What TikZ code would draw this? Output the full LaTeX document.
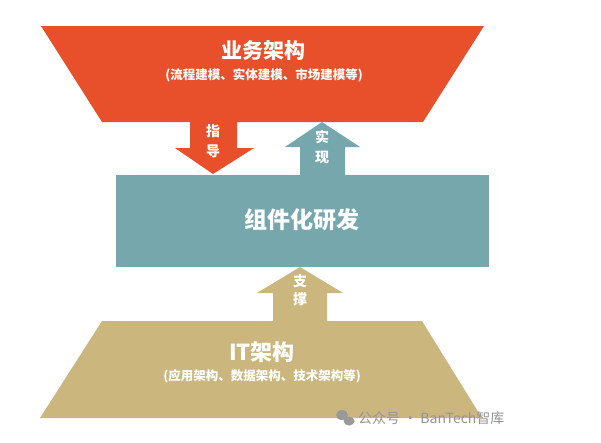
\documentclass[tikz,border=0pt]{standalone}
\usepackage{fontspec}
\setmainfont{Noto Sans CJK SC}
\begin{document}
\begin{tikzpicture}[x=1pt,y=-1pt,
  lbl/.style={text=white,font=\bfseries,inner sep=0pt,align=center},
  wm/.style={text=black!42,inner sep=0pt,font=\fontsize{14}{16}\selectfont}]
\definecolor{redc}{HTML}{E8502C}
\definecolor{tealc}{HTML}{76A7AD}
\definecolor{tanc}{HTML}{CBB77E}
\useasboundingbox (0,0) rectangle (601,442);
\fill[white] (0,0) rectangle (601,442);
% top trapezoid
\fill[redc] (41,26) -- (484,26) -- (423,122) -- (102,122) -- cycle;
% down arrow
\fill[redc] (190,121) -- (237,121) -- (237,148) -- (254,148) -- (213,174) -- (175,148) -- (190,148) -- cycle;
% up arrow 实现
\fill[tealc] (300,176) -- (300,147) -- (285,147) -- (322,122) -- (360,147) -- (345,147) -- (345,176) -- cycle;
% middle box
\fill[tealc] (116,175) rectangle (489,267);
% up arrow 支撑
\fill[tanc] (273,322) -- (273,293) -- (257,293) -- (300,267) -- (343,293) -- (327,293) -- (327,322) -- cycle;
% bottom trapezoid
\fill[tanc] (102,321) -- (422,321) -- (482,418) -- (40,418) -- cycle;
% texts
\node[lbl,font=\bfseries\fontsize{21}{24}\selectfont] (biz) at (263,51) {业务架构};
\node[lbl,font=\bfseries\fontsize{12.5}{14}\selectfont] (bizsub) at (264,75) {(流程建模、实体建模、市场建模等)};
\node[lbl,font=\bfseries\fontsize{14}{20}\selectfont] (guide) at (213,141) {指\\导};
\node[lbl,font=\bfseries\fontsize{14}{20}\selectfont] (impl) at (322,147) {实\\现};
\node[lbl,font=\bfseries\fontsize{23}{26}\selectfont] (comp) at (302,220) {组件化研发};
\node[lbl,font=\bfseries\fontsize{14}{18}\selectfont] (supp) at (300,290) {支\\撑};
\node[lbl,font=\bfseries\fontsize{22}{24}\selectfont] (it) at (262,352) {IT架构};
\node[lbl,font=\bfseries\fontsize{12.5}{14}\selectfont] (itsub) at (262,376) {(应用架构、数据架构、技术架构等)};
% watermark
\fill[black!40] (342,415) ellipse (6 and 5);
\fill[black!40] (349,421) ellipse (5.5 and 4.5);
\node[wm,anchor=west] (mark) at (358,418) {公众号 · BanTech智库};
\end{tikzpicture}
\end{document}
